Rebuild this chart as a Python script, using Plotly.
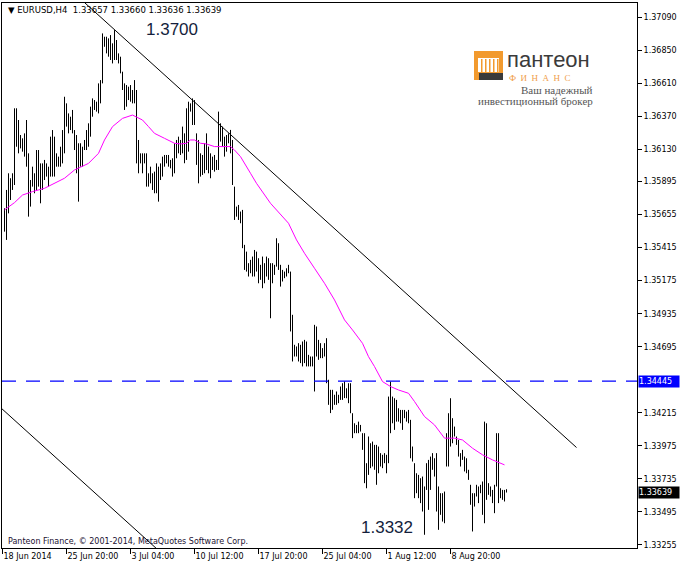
import plotly.graph_objects as go

# ---------------- data ----------------
symbol_title = "EURUSD,H4"
last_ohlc = [1.33657, 1.33660, 1.33636, 1.33639]

highs = [
    1.35701, 1.35834, 1.35955, 1.35919, 1.35955, 1.36427, 1.36427, 1.36342, 1.36233, 1.36209,
    1.36245, 1.36342, 1.36100, 1.35906, 1.36003, 1.35955, 1.36124, 1.36124, 1.36027, 1.36027,
    1.36052, 1.36027, 1.36003, 1.36221, 1.36269, 1.36221, 1.36100, 1.36076, 1.36148, 1.36269,
    1.36511, 1.36463, 1.36390, 1.36366, 1.36415, 1.36269, 1.36233, 1.36173, 1.36173, 1.36148,
    1.36197, 1.36269, 1.36318, 1.36439, 1.36499, 1.36487, 1.36475, 1.36608, 1.36632, 1.36971,
    1.36947, 1.36947, 1.36935, 1.36959, 1.36899, 1.36995, 1.36923, 1.36826, 1.36802, 1.36693,
    1.36608, 1.36596, 1.36584, 1.36596, 1.36560, 1.36632, 1.36560, 1.36197, 1.36100, 1.36100,
    1.36100, 1.36100, 1.35955, 1.36003, 1.35955, 1.35967, 1.36027, 1.36003, 1.36027, 1.36076,
    1.36088, 1.36088, 1.36088, 1.36052, 1.36064, 1.36173, 1.36197, 1.36221, 1.36197, 1.36294,
    1.36245, 1.36427, 1.36475, 1.36463, 1.36499, 1.36487, 1.36245, 1.36197, 1.36100, 1.36088,
    1.36173, 1.36245, 1.36149, 1.36100, 1.36076, 1.36088, 1.36052, 1.36403, 1.36318, 1.36294,
    1.36221, 1.36233, 1.36245, 1.36270, 1.36197, 1.35858, 1.35713, 1.35725, 1.35677, 1.35689,
    1.35435, 1.35386, 1.35302, 1.35326, 1.35350, 1.35398, 1.35386, 1.35338, 1.35290, 1.35350,
    1.35302, 1.35350, 1.35338, 1.35302, 1.35302, 1.35290, 1.35483, 1.35447, 1.35290, 1.35253,
    1.35241, 1.35265, 1.35290, 1.35241, 1.34927, 1.34709, 1.34697, 1.34721, 1.34709, 1.34733,
    1.34745, 1.34733, 1.34636, 1.34624, 1.34624, 1.34854, 1.34842, 1.34745, 1.34721, 1.34685,
    1.34721, 1.34757, 1.34455, 1.34382, 1.34382, 1.34346, 1.34370, 1.34346, 1.34406, 1.34430,
    1.34443, 1.34393, 1.34430, 1.34430, 1.34212, 1.34139, 1.34127, 1.34151, 1.34127, 1.34067,
    1.34067, 1.33849, 1.34043, 1.33994, 1.34006, 1.33982, 1.33982, 1.33970, 1.33922, 1.33910,
    1.33922, 1.33910, 1.34333, 1.34442, 1.34333, 1.34321, 1.34309, 1.34248, 1.34236, 1.34236,
    1.34236, 1.34224, 1.34236, 1.34164, 1.33970, 1.33849, 1.33776, 1.33764, 1.33740, 1.33752,
    1.33680, 1.33849, 1.33873, 1.33897, 1.33922, 1.33885, 1.33922, 1.33680, 1.33631, 1.33631,
    1.33643, 1.34067, 1.34212, 1.34321, 1.34176, 1.34115, 1.34043, 1.34018, 1.33922, 1.33946,
    1.33897, 1.33885, 1.33801, 1.33692, 1.33631, 1.33631, 1.33692, 1.33680, 1.33692, 1.33716,
    1.34151, 1.34139, 1.33704, 1.33680, 1.33655, 1.33692, 1.34067, 1.34067, 1.33667, 1.33655,
    1.33655, 1.33660,
]

lows = [
    1.35531, 1.35471, 1.35664, 1.35761, 1.35834, 1.35870, 1.36148, 1.36100, 1.36136, 1.36112,
    1.36076, 1.36003, 1.35640, 1.35713, 1.35858, 1.35810, 1.35834, 1.35858, 1.35737, 1.35834,
    1.35906, 1.35931, 1.35858, 1.35931, 1.35931, 1.35931, 1.36003, 1.36003, 1.36003, 1.36027,
    1.36100, 1.36294, 1.36245, 1.36269, 1.36245, 1.36124, 1.35955, 1.35749, 1.36003, 1.36003,
    1.36124, 1.36124, 1.36148, 1.36221, 1.36366, 1.36415, 1.36403, 1.36390, 1.36463, 1.36608,
    1.36874, 1.36826, 1.36802, 1.36778, 1.36753, 1.36778, 1.36778, 1.36753, 1.36681, 1.36560,
    1.36415, 1.36439, 1.36487, 1.36475, 1.36463, 1.36463, 1.36027, 1.35955, 1.36027, 1.35955,
    1.36027, 1.35858, 1.35858, 1.35882, 1.35834, 1.35810, 1.35810, 1.35749, 1.35906, 1.35931,
    1.36003, 1.36027, 1.36003, 1.35991, 1.35931, 1.35955, 1.36064, 1.36100, 1.36088, 1.36100,
    1.36028, 1.36052, 1.36112, 1.36403, 1.36306, 1.36306, 1.36016, 1.35882, 1.35931, 1.35943,
    1.35955, 1.35979, 1.35955, 1.35919, 1.35979, 1.35967, 1.35979, 1.35979, 1.36185, 1.36149,
    1.36076, 1.36112, 1.36173, 1.36100, 1.35870, 1.35616, 1.35640, 1.35616, 1.35592, 1.35411,
    1.35253, 1.35241, 1.35205, 1.35229, 1.35205, 1.35205, 1.35241, 1.35156, 1.35181, 1.35120,
    1.35156, 1.35205, 1.35181, 1.34902, 1.35156, 1.35217, 1.35277, 1.35253, 1.35132, 1.35169,
    1.35193, 1.35205, 1.35229, 1.34806, 1.34588, 1.34624, 1.34624, 1.34588, 1.34576, 1.34552,
    1.34576, 1.34552, 1.34552, 1.34552, 1.34552, 1.34370, 1.34624, 1.34600, 1.34612, 1.34612,
    1.34624, 1.34430, 1.34273, 1.34213, 1.34237, 1.34273, 1.34273, 1.34285, 1.34309, 1.34309,
    1.34322, 1.34321, 1.34285, 1.34212, 1.34031, 1.34067, 1.34067, 1.34067, 1.34079, 1.33946,
    1.33704, 1.33667, 1.33764, 1.33813, 1.33825, 1.33801, 1.33692, 1.33776, 1.33825, 1.33813,
    1.33849, 1.33776, 1.33849, 1.34067, 1.34139, 1.34091, 1.34151, 1.34151, 1.34139, 1.34091,
    1.34176, 1.34151, 1.34139, 1.33885, 1.33861, 1.33595, 1.33631, 1.33595, 1.33559, 1.33498,
    1.33329, 1.33655, 1.33510, 1.33655, 1.33801, 1.33752, 1.33498, 1.33365, 1.33474, 1.33425,
    1.33413, 1.33825, 1.33825, 1.33970, 1.33994, 1.34043, 1.33982, 1.33897, 1.33825, 1.33873,
    1.33789, 1.33776, 1.33728, 1.33547, 1.33353, 1.33534, 1.33607, 1.33559, 1.33631, 1.33474,
    1.33413, 1.33583, 1.33619, 1.33607, 1.33559, 1.33486, 1.33680, 1.33559, 1.33595, 1.33583,
    1.33571, 1.33636,
]

# moving average (magenta) read at sampled bars
ma_idx = [1, 6, 10, 15, 21, 26, 31, 36, 43, 48, 51, 55, 60, 65, 70, 73, 76, 81, 86, 89,
          92, 94, 96, 99, 102, 106, 109, 114, 116, 119, 124, 127, 134, 139, 143, 147, 151, 156, 161, 166,
          171, 175, 180, 183, 186, 190, 194, 198, 203, 206, 211, 216, 221, 226, 230, 235, 240, 245, 251]
ma_val = [1.35689, 1.35742, 1.35797, 1.35822, 1.35846, 1.35882, 1.35919, 1.35979, 1.36027, 1.36100,
          1.36197, 1.36294, 1.36354, 1.36378, 1.36342, 1.36294, 1.36245, 1.36209, 1.36173, 1.36168,
          1.36173, 1.36197, 1.36197, 1.36173, 1.36168, 1.36149, 1.36149, 1.36149, 1.36124, 1.36076,
          1.35955, 1.35882, 1.35737, 1.35652, 1.35592, 1.35471, 1.35374, 1.35265, 1.35156, 1.35035,
          1.34890, 1.34817, 1.34720, 1.34623, 1.34551, 1.34442, 1.34406, 1.34381, 1.34357, 1.34297,
          1.34188, 1.34127, 1.34031, 1.34031, 1.34018, 1.33958, 1.33910, 1.33873, 1.33837]

# trend lines (bar index, price)
upper_idx = [30, 287]
upper_val = [1.37340, 1.33963]
lower_idx = [-5, 90]
lower_val = [1.34306, 1.33058]

hline_level = 1.34445
peak_label = "1.3700"
trough_label = "1.3332"

x_tick_idx = [0, 32, 64, 96, 128, 160, 192, 224]
x_tick_text = ["18 Jun 2014", "25 Jun 20:00", "3 Jul 04:00", "10 Jul 12:00",
               "17 Jul 20:00", "25 Jul 04:00", "1 Aug 12:00", "8 Aug 20:00"]
y_tick_vals = [1.37090, 1.36850, 1.36610, 1.36370, 1.36130, 1.35895, 1.35655, 1.35415,
               1.35175, 1.34935, 1.34695, 1.34215, 1.33975, 1.33735, 1.33495, 1.33255]

# ---------------- layout geometry ----------------
W_FIG, H_FIG = 680, 566
L, T, R, B = 2, 3, 43, 18
PW, PH = W_FIG - L - R, H_FIG - T - B


def px(x):
    return (x - L) / PW


def py(y):
    return (T + PH - y) / PH


SMALL = dict(family="DejaVu Sans", size=8, color="black")

bar_x = list(range(1, len(highs) + 1))
bx, by = [], []
for k, h, lo in zip(bar_x, highs, lows):
    bx += [k, k, None]
    by += [lo, h, None]

fig = go.Figure()
fig.add_trace(go.Scatter(x=bx, y=by, mode="lines", line=dict(color="black", width=1),
                         hoverinfo="skip", showlegend=False))
fig.add_trace(go.Scatter(x=ma_idx, y=ma_val, mode="lines", line=dict(color="#ff00ff", width=1),
                         hoverinfo="skip", showlegend=False))
fig.add_trace(go.Scatter(x=upper_idx, y=upper_val, mode="lines", line=dict(color="black", width=1),
                         hoverinfo="skip", showlegend=False))
fig.add_trace(go.Scatter(x=lower_idx, y=lower_val, mode="lines", line=dict(color="black", width=1),
                         hoverinfo="skip", showlegend=False))

shapes = [
    dict(type="line", xref="paper", x0=0, x1=1, yref="y", y0=hline_level, y1=hline_level,
         line=dict(color="#0000ff", width=1.3, dash="14px,10px")),
    # logo icon
    dict(type="rect", xref="paper", yref="paper", x0=px(474), x1=px(503), y0=py(80), y1=py(51),
         fillcolor="#f29a2e", line=dict(width=0)),
    dict(type="rect", xref="paper", yref="paper", x0=px(478), x1=px(499), y0=py(72), y1=py(58),
         fillcolor="white", line=dict(width=0)),
    dict(type="rect", xref="paper", yref="paper", x0=px(477), x1=px(500), y0=py(58), y1=py(55),
         fillcolor="#f29a2e", line=dict(width=0)),
    dict(type="rect", xref="paper", yref="paper", x0=px(479), x1=px(503), y0=py(80), y1=py(73),
         fillcolor="#3a3a3a", line=dict(width=0)),
]
for cx in [481, 485, 489, 493, 497]:
    shapes.append(dict(type="rect", xref="paper", yref="paper", x0=px(cx), x1=px(cx + 1.5),
                       y0=py(72), y1=py(59), fillcolor="#f29a2e", line=dict(width=0)))

ann = [
    dict(x=px(6), y=py(10), xref="paper", yref="paper", xanchor="left", yanchor="middle",
         text="▼ " + symbol_title + "  " + " ".join(f"{v:.5f}" for v in last_ohlc),
         showarrow=False, font=dict(family="DejaVu Sans", size=8.5, color="black")),
    dict(x=px(144), y=py(29), xref="paper", yref="paper", xanchor="left", yanchor="middle",
         text=peak_label, showarrow=False,
         font=dict(family="Liberation Sans", size=17, color="#141e3c")),
    dict(x=px(359), y=py(527), xref="paper", yref="paper", xanchor="left", yanchor="middle",
         text=trough_label, showarrow=False,
         font=dict(family="Liberation Sans", size=17, color="#141e3c")),
    dict(x=px(6), y=py(541), xref="paper", yref="paper", xanchor="left", yanchor="middle",
         text="Panteon Finance, © 2001-2014, MetaQuotes Software Corp.", showarrow=False,
         font=dict(family="DejaVu Sans", size=8, color="#1a1030")),
    dict(x=px(638), y=hline_level, xref="paper", yref="y", xanchor="left", yanchor="middle",
         text=f"{hline_level:.5f}", showarrow=False, bgcolor="#0000ff", width=40, height=11,
         borderpad=0, align="left", font=dict(family="DejaVu Sans", size=8, color="white")),
    dict(x=px(638), y=last_ohlc[3], xref="paper", yref="y", xanchor="left", yanchor="middle",
         text=f"{last_ohlc[3]:.5f}", showarrow=False, bgcolor="black", width=40, height=11,
         borderpad=0, align="left", font=dict(family="DejaVu Sans", size=8, color="white")),
    # logo texts
    dict(x=px(505), y=py(60), xref="paper", yref="paper", xanchor="left", yanchor="middle",
         text="пантеон", showarrow=False,
         font=dict(family="Liberation Sans", size=22, color="#3b3b3b")),
    dict(x=px(507), y=py(78), xref="paper", yref="paper", xanchor="left", yanchor="middle",
         text="Ф  И  Н  А  Н  С", showarrow=False,
         font=dict(family="Liberation Serif", size=9, color="#f0a04b")),
    dict(x=px(595), y=py(90), xref="paper", yref="paper", xanchor="right", yanchor="middle",
         text="Ваш надежный", showarrow=False,
         font=dict(family="Liberation Serif", size=11, color="#555555")),
    dict(x=px(595), y=py(101), xref="paper", yref="paper", xanchor="right", yanchor="middle",
         text="инвестиционный брокер", showarrow=False,
         font=dict(family="Liberation Serif", size=11, color="#555555")),
]

fig.update_layout(
    width=W_FIG, height=H_FIG, autosize=False,
    margin=dict(l=L, r=R, t=T, b=B, pad=0),
    paper_bgcolor="white", plot_bgcolor="white",
    showlegend=False, shapes=shapes, annotations=ann,
    xaxis=dict(range=[-0.25, -0.25 + PW / 2], tickvals=x_tick_idx, ticktext=x_tick_text,
               ticks="outside", ticklen=5, tickcolor="black", showgrid=False, zeroline=False,
               showline=True, linecolor="black", linewidth=1, mirror=True,
               ticklabelposition="outside right", tickfont=SMALL, fixedrange=True),
    yaxis=dict(range=[1.33233, 1.37192], side="right", tickvals=y_tick_vals,
               tickformat=".5f", ticks="outside", ticklen=4, tickcolor="black",
               showgrid=False, zeroline=False, showline=True, linecolor="black", linewidth=1,
               mirror=True, tickfont=SMALL, fixedrange=True),
)

fig.write_html("out.html", config={"displayModeBar": False},
               post_script="document.body.style.margin='0px';document.body.style.overflow='hidden';")
